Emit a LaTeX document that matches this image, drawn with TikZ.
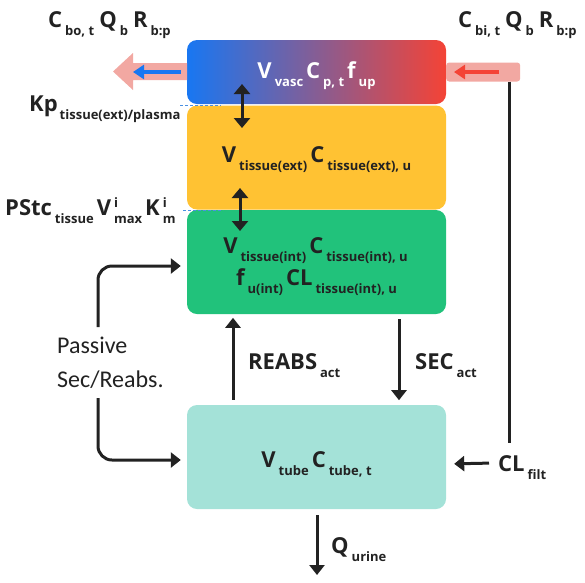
\documentclass[tikz,border=0pt]{standalone}
\usepackage{fontspec}
\setmainfont{Open Sans}
\newfontfamily\calfont{Carlito}
\usetikzlibrary{arrows.meta}
\definecolor{inkc}{HTML}{222222}
\definecolor{yelc}{HTML}{FFC233}
\definecolor{grnc}{HTML}{21C27B}
\definecolor{tealc}{HTML}{A4E2D8}
\definecolor{bluec}{HTML}{1877F2}
\definecolor{redc}{HTML}{F44336}
\definecolor{pinkc}{HTML}{F2A8A2}
\definecolor{dashc}{HTML}{4A90E2}
\newcommand\lo[1]{\kern3pt\raisebox{-8pt}{\fontsize{13}{13}\selectfont #1}\kern3pt}
\newcommand\hi[1]{\raisebox{8pt}{\fontsize{13}{13}\selectfont #1}}
\newcommand\both[2]{\kern3pt\rlap{\hi{#1}}\raisebox{-8pt}{\fontsize{13}{13}\selectfont #2}\kern3pt}
\tikzset{
  box/.style={rectangle, rounded corners=10pt, minimum width=259pt, inner sep=0pt},
  lbl/.style={inner sep=0pt, text=inkc, font=\bfseries\fontsize{22}{26}\selectfont},
  flow/.style={draw=inkc, line width=3pt, -{Triangle[length=10pt,width=15pt]}},
  dflow/.style={draw=inkc, line width=3pt, {Triangle[length=10pt,width=16pt]}-{Triangle[length=10pt,width=16pt]}},
  guide/.style={draw=dashc, line width=1pt, dash pattern=on 3pt off 2pt},
}
\begin{document}
\begin{tikzpicture}[x=1pt,y=-1pt]
\useasboundingbox (0,0) rectangle (585,582);
% boxes
\node[box, minimum height=64pt, left color=bluec, right color=redc] (vasc) at (316.5,72) {};
\node[box, minimum height=104pt, fill=yelc] (ext) at (316.5,157.5) {};
\node[box, minimum height=104pt, fill=grnc] (int) at (316.5,262) {};
\node[box, minimum height=104pt, fill=tealc] (tube) at (316.5,457) {};
% pink in/out flows
\fill[pinkc] (187,63) -- (133,63) -- (133,53) -- (113,71.5) -- (133,90) -- (133,80) -- (187,80) -- cycle;
\node[fill=pinkc, rounded corners=3pt, minimum width=74pt, minimum height=19pt, inner sep=0pt, anchor=west] (inbar) at (446,72) {};
\coordinate (outtip) at (133,72);
\draw[draw=bluec, line width=3.5pt, -{Triangle[length=11pt,width=14pt]}] (vasc.west |- outtip) ++(-6,0) -- (outtip);
\coordinate (intip) at (454,72);
\draw[draw=redc, line width=3.5pt, -{Triangle[length=11pt,width=14pt]}] (499,72) -- (intip);
% dashed guides
\coordinate (g1a) at (180,105); \coordinate (g1b) at (221,105);
\coordinate (g2a) at (183,210); \coordinate (g2b) at (223,210);
\draw[guide] (g1a) -- (g1b);
\draw[guide] (g2a) -- (g2b);
% double arrows
\coordinate (d1a) at (242,84); \coordinate (d1b) at (242,128);
\coordinate (d2a) at (240,188); \coordinate (d2b) at (240,231);
\draw[dflow] (d1a) -- (d1b);
\draw[dflow] (d2a) -- (d2b);
% box texts
\node[lbl, text=white, anchor=base] (tv) at (318,78) {V\lo{vasc}C\lo{p, t}f\lo{up}};
\node[lbl, anchor=base] (te) at (318,162) {V\lo{tissue(ext)}C\lo{tissue(ext), u}};
\node[lbl, anchor=base] (ti1) at (317,253) {V\lo{tissue(int)}C\lo{tissue(int), u}};
\node[lbl, anchor=base] (ti2) at (318,285) {f\lo{u(int)}CL\lo{tissue(int), u}};
\node[lbl, anchor=base] (tt) at (318,467) {V\lo{tube}C\lo{tube, t}};
% outside labels
\node[lbl, anchor=base west] (cbo) at (48,27) {C\lo{bo, t}\kern2pt Q\lo{b}\kern2pt R\lo{b:p}};
\node[lbl, anchor=base west] (cbi) at (458,27) {C\lo{bi, t}\kern2pt Q\lo{b}\kern2pt R\lo{b:p}};
\node[lbl, anchor=base west] (kp) at (29,111) {Kp\kern-1pt\lo{tissue(ext)/plasma}};
\node[lbl, anchor=base west] (ps) at (5,215) {PStc\lo{tissue}V\both{i}{max}K\both{i}{m}};
\node[lbl, anchor=base west] (reabs) at (248,369) {REABS\lo{act}};
\node[lbl, anchor=base west] (sec) at (415,369) {SEC\lo{act}};
\node[lbl, anchor=base west] (cl) at (498,471) {CL\lo{filt}};
\node[lbl, anchor=base west] (qu) at (331,553) {Q\lo{urine}};
\node[inner sep=0pt, text=inkc, font=\calfont\fontsize{24}{34}\selectfont, align=left, anchor=base west] (pass) at (57,387) {Passive\\Sec/Reabs.};
% connectors
\draw[flow] (tube.north -| reabs.west) ++(-15,-5) -- ++(0,-82);
\draw[flow] ([xshift=-16pt]sec.west |- int.south) ++(0,5) -- ++(0,81);
\draw[flow] (tube.south -| 317,0) ++(0,6) -- (317,575);
\coordinate (clend) at (509,443);
\draw[draw=inkc, line width=3pt] (inbar.south -| clend) -- (clend);
\draw[flow, shorten >=8pt] ([xshift=-9pt,yshift=4pt]cl.west) -- (tube.east |- 0,464);
\coordinate (p1) at (98,327);
\coordinate (p2) at (98,398);
\draw[flow, rounded corners=14pt] (p1) |- ([yshift=-4pt,xshift=-6pt]int.west);
\draw[flow, rounded corners=14pt] (p2) |- ([yshift=-3pt,xshift=-6pt]tube.west);
\end{tikzpicture}
\end{document}
